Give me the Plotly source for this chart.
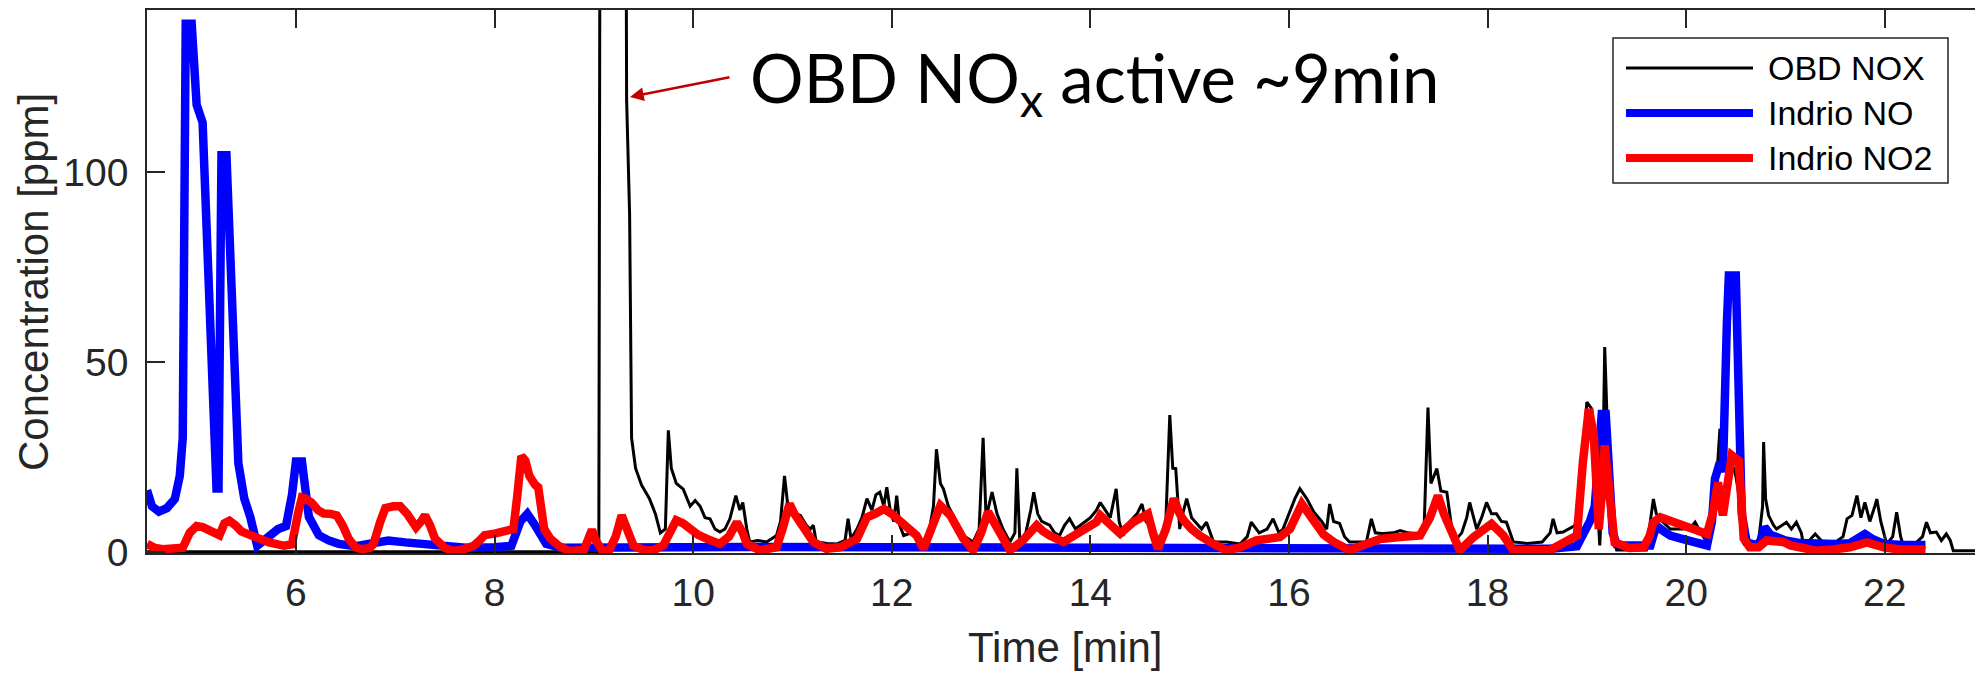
import plotly.graph_objects as go

# OBD NOx sensor signal (time [min], ppm)
obd = [
    (4.50, 0), (9.05, 0), (9.07, 300), (9.31, 300), (9.33, 119), (9.36, 89), (9.38, 30),
    (9.42, 22), (9.48, 17.6), (9.56, 14), (9.62, 10), (9.67, 5), (9.72, 6), (9.75, 32),
    (9.78, 22), (9.83, 18), (9.90, 16.5), (9.97, 12), (10.02, 13.5), (10.07, 12), (10.12, 9),
    (10.17, 8.7), (10.22, 6), (10.27, 5.2), (10.32, 6), (10.37, 8.7), (10.43, 14.8), (10.47, 11),
    (10.50, 13), (10.54, 6), (10.57, 2.6), (10.65, 3), (10.74, 2.6), (10.84, 4.3), (10.88, 8),
    (10.92, 20), (10.95, 13), (10.99, 12), (11.04, 10), (11.08, 9.6), (11.14, 7), (11.18, 6),
    (11.21, 7), (11.24, 2.6), (11.35, 2.2), (11.45, 2.1), (11.53, 3), (11.56, 8.7), (11.59, 3.4),
    (11.65, 6), (11.70, 9), (11.75, 14), (11.80, 11), (11.84, 15), (11.88, 15.7), (11.92, 12),
    (11.95, 17), (11.99, 10), (12.02, 8), (12.05, 14.8), (12.08, 7), (12.12, 4.3), (12.20, 5),
    (12.25, 4.3), (12.32, 2.6), (12.38, 6), (12.42, 12), (12.45, 27), (12.49, 18), (12.52, 16.6),
    (12.57, 12), (12.62, 9.6), (12.67, 7), (12.72, 4.3), (12.82, 2.6), (12.88, 6), (12.92, 30),
    (12.95, 9), (12.98, 12), (13.01, 15.7), (13.06, 10), (13.12, 6), (13.19, 2.6), (13.24, 5),
    (13.26, 22), (13.29, 2.6), (13.35, 5), (13.40, 11), (13.43, 15.7), (13.47, 10), (13.51, 8),
    (13.59, 7), (13.64, 5), (13.69, 4.3), (13.74, 7), (13.79, 8.7), (13.85, 6), (13.93, 7.5),
    (14.00, 9), (14.06, 10.9), (14.10, 13), (14.20, 9), (14.26, 16.6), (14.29, 8), (14.33, 4.3),
    (14.40, 8), (14.47, 10), (14.52, 12.6), (14.56, 8), (14.63, 6), (14.70, 3), (14.76, 8),
    (14.80, 36), (14.83, 22), (14.86, 21.9), (14.90, 6), (14.93, 10), (14.97, 14), (15.02, 9),
    (15.07, 7.5), (15.12, 6), (15.17, 7.8), (15.24, 2.6), (15.37, 2.6), (15.51, 2.1), (15.58, 4),
    (15.62, 7.8), (15.70, 5), (15.78, 6), (15.84, 8.7), (15.90, 5), (15.94, 6), (16.00, 10),
    (16.06, 14), (16.11, 16.6), (16.18, 14), (16.25, 10.5), (16.33, 8), (16.38, 6), (16.41, 12.6),
    (16.45, 8), (16.51, 7.5), (16.56, 4), (16.61, 2.6), (16.78, 2.6), (16.83, 8.7), (16.87, 5),
    (16.95, 4.8), (17.05, 5), (17.12, 5.6), (17.20, 5), (17.29, 4.8), (17.36, 5.5), (17.40, 38),
    (17.43, 18), (17.46, 20), (17.49, 21.9), (17.53, 16), (17.59, 15.7), (17.63, 8), (17.66, 2.6),
    (17.74, 5), (17.79, 9), (17.82, 13), (17.85, 10), (17.89, 6), (17.94, 9), (17.99, 13),
    (18.04, 10), (18.09, 10), (18.14, 8), (18.19, 7.8), (18.26, 2.6), (18.40, 2.2), (18.55, 2.6),
    (18.63, 5), (18.66, 8.7), (18.70, 5), (18.76, 5.2), (18.82, 6), (18.88, 6.9), (18.93, 14),
    (18.97, 30), (19.00, 39.4), (19.05, 37.6), (19.09, 20), (19.13, 1.7), (19.16, 20), (19.18, 53.9),
    (19.21, 30), (19.24, 20), (19.27, 3), (19.30, 0.5), (19.60, 0.5), (19.64, 8.7), (19.67, 13.9),
    (19.70, 10), (19.74, 8.5), (19.84, 6), (19.97, 6), (20.05, 6.5), (20.09, 7.8), (20.15, 5),
    (20.21, 2.5), (20.25, 8), (20.27, 12.2), (20.31, 20), (20.34, 32.4), (20.37, 24), (20.39, 22),
    (20.44, 25), (20.50, 20), (20.55, 12), (20.58, 3), (20.68, 1), (20.73, 3), (20.77, 12),
    (20.78, 28.9), (20.80, 14), (20.83, 9.6), (20.88, 7), (20.91, 6), (20.96, 7), (21.01, 7.8),
    (21.06, 6), (21.11, 7.8), (21.16, 5), (21.18, 2), (21.24, 3), (21.30, 4.7), (21.36, 3),
    (21.42, 2), (21.50, 2.5), (21.58, 4), (21.62, 8.7), (21.67, 9.6), (21.72, 14.8), (21.76, 9),
    (21.80, 13), (21.85, 8), (21.90, 12), (21.92, 13.9), (21.96, 8), (22.02, 2), (22.08, 4),
    (22.12, 10.4), (22.16, 4), (22.19, 1.5), (22.30, 2), (22.38, 4), (22.42, 7.8), (22.46, 5),
    (22.52, 5.2), (22.57, 3), (22.62, 4.7), (22.66, 3), (22.69, 0.3), (23.00, 0.3),
]

# Indrio NO analyser (time [min], ppm)
indrio_no = [
    (4.50, 16.2), (4.55, 12), (4.62, 10.6), (4.70, 11.5), (4.78, 13.9), (4.83, 20), (4.86, 30),
    (4.87, 61), (4.89, 139), (4.95, 139), (5.00, 117.6), (5.06, 113), (5.14, 51.6), (5.20, 16.7),
    (5.22, 16.7), (5.25, 104.4), (5.30, 104.4), (5.37, 61), (5.42, 23.3), (5.48, 14), (5.54, 9.2),
    (5.61, 1.6), (5.67, 3), (5.73, 4.4), (5.82, 6), (5.90, 6.8), (5.96, 15), (6.00, 23.8),
    (6.06, 23.8), (6.13, 9.2), (6.23, 4.4), (6.33, 3), (6.43, 2.1), (6.60, 1.5), (6.80, 2.5),
    (6.93, 3), (7.10, 2.5), (7.32, 2.1), (7.50, 1.5), (7.71, 1.1), (8.00, 1.2), (8.17, 1.6),
    (8.26, 8), (8.33, 10), (8.40, 7.3), (8.52, 2.1), (8.67, 1.1), (9.00, 1.2), (9.44, 1.5),
    (10.50, 1.3), (12.00, 1.2), (14.00, 1.2), (16.00, 1.2), (18.00, 1.2), (18.63, 0.8),
    (18.90, 1.5), (18.98, 5), (19.03, 8), (19.08, 12), (19.12, 23), (19.15, 36.3), (19.19, 36.3),
    (19.22, 23), (19.26, 5), (19.30, 2), (19.37, 1.7), (19.64, 1.7), (19.70, 6.9), (19.77, 5.5),
    (19.84, 4.3), (19.95, 3.5), (20.07, 2.5), (20.21, 1.7), (20.26, 8), (20.29, 19.2), (20.34, 23.6),
    (20.37, 21), (20.41, 60), (20.43, 72.7), (20.50, 72.7), (20.53, 40), (20.56, 10), (20.61, 2.5),
    (20.71, 1.7), (20.75, 3), (20.79, 6.5), (20.85, 4.5), (20.91, 3.9), (21.00, 3), (21.15, 2.3),
    (21.31, 2.1), (21.50, 2.1), (21.65, 2.3), (21.75, 3.5), (21.80, 4.7), (21.87, 3.5), (21.99, 2.1),
    (22.20, 1.8), (22.41, 1.8),
]

# Indrio NO2 analyser (time [min], ppm)
indrio_no2 = [
    (4.50, 2.1), (4.58, 1), (4.66, 0.7), (4.78, 0.8), (4.86, 1.1), (4.93, 5), (5.00, 6.8),
    (5.06, 6.5), (5.12, 5.8), (5.18, 4.5), (5.23, 4.4), (5.28, 7.5), (5.33, 8.2), (5.39, 7),
    (5.45, 5.4), (5.58, 4), (5.66, 3), (5.73, 2.5), (5.88, 1.6), (5.96, 2), (6.02, 10), (6.06, 14.3),
    (6.10, 14), (6.16, 12.9), (6.22, 11), (6.28, 10.1), (6.35, 10), (6.41, 9.6), (6.47, 7),
    (6.53, 3.5), (6.60, 1.2), (6.66, 0.7), (6.74, 1), (6.78, 2), (6.85, 8), (6.90, 11.5), (6.98, 12),
    (7.05, 12), (7.12, 10), (7.17, 8.2), (7.21, 6.5), (7.26, 8), (7.30, 9.6), (7.35, 7), (7.40, 3.5),
    (7.50, 1), (7.59, 0.2), (7.70, 0.8), (7.79, 1.6), (7.85, 3), (7.90, 4.4), (8.00, 4.8),
    (8.13, 5.4), (8.19, 6), (8.23, 15), (8.27, 25.2), (8.31, 24), (8.35, 20), (8.41, 17.6),
    (8.44, 17), (8.50, 6), (8.56, 3.5), (8.65, 1.5), (8.75, 0.2), (8.90, 0.5), (8.95, 4), (8.98, 5.8),
    (9.02, 3), (9.08, 0.5), (9.15, 0.2), (9.22, 4), (9.28, 9.6), (9.33, 6), (9.40, 1.6), (9.50, 0.5),
    (9.60, 0.4), (9.70, 1.7), (9.77, 6), (9.83, 8.3), (9.90, 7.5), (9.97, 6), (10.05, 4.5),
    (10.14, 3.4), (10.27, 2.1), (10.36, 4), (10.44, 7.8), (10.50, 5), (10.54, 2.1), (10.67, 0.4),
    (10.84, 1.2), (10.90, 6), (10.97, 12.6), (11.02, 10), (11.08, 7.8), (11.15, 5), (11.21, 2.6),
    (11.34, 0.8), (11.48, 1.2), (11.65, 3.4), (11.75, 9.1), (11.83, 10), (11.92, 11.3), (12.00, 10),
    (12.12, 7), (12.25, 4.3), (12.32, 0.8), (12.40, 6), (12.49, 12.2), (12.59, 9.6), (12.66, 6),
    (12.72, 3.5), (12.82, 0.4), (12.90, 5), (12.97, 10.5), (13.06, 6), (13.12, 3), (13.19, 0.4),
    (13.32, 3), (13.46, 7), (13.52, 5.5), (13.59, 4.3), (13.73, 2.6), (13.90, 5.3), (14.06, 7.8),
    (14.10, 9.6), (14.20, 7.5), (14.30, 4.8), (14.43, 7.8), (14.58, 10), (14.63, 5), (14.68, 0.8),
    (14.76, 6), (14.84, 14), (14.90, 10), (14.94, 8.3), (15.02, 6), (15.10, 4.3), (15.24, 2.1),
    (15.37, 0.4), (15.51, 1.2), (15.67, 3), (15.91, 3.9), (16.01, 6), (16.13, 12.6), (16.25, 7.8),
    (16.35, 4.5), (16.45, 2.6), (16.61, 0.4), (16.78, 2.1), (16.92, 3.4), (17.12, 3.9), (17.32, 4.3),
    (17.42, 9), (17.50, 14.8), (17.56, 10), (17.62, 6), (17.72, 0.4), (17.86, 3.9), (18.04, 7.4),
    (18.16, 4.3), (18.26, 0.4), (18.63, 0.5), (18.80, 3), (18.90, 4.3), (18.96, 23.6), (19.02, 37.6),
    (19.07, 30.6), (19.12, 6), (19.15, 15), (19.18, 28), (19.23, 14.8), (19.28, 2.5), (19.43, 1),
    (19.57, 1.2), (19.63, 4), (19.67, 7.8), (19.74, 9.1), (19.85, 8), (19.97, 6.9), (20.10, 5.5),
    (20.21, 4.7), (20.27, 10.4), (20.32, 18.3), (20.37, 9.6), (20.42, 20), (20.46, 25.4),
    (20.53, 24), (20.58, 3.5), (20.64, 1.2), (20.73, 1.2), (20.81, 3), (20.98, 2.6), (21.05, 1.7),
    (21.15, 1.2), (21.31, 0.3), (21.48, 0.6), (21.65, 1.2), (21.82, 2.5), (21.99, 1.2), (22.15, 0.6),
    (22.41, 0.6),
]

x_ticks = [6, 8, 10, 12, 14, 16, 18, 20, 22]
y_ticks = [0, 50, 100]

series_names = ["OBD NOX", "Indrio NO", "Indrio NO2"]
series_colors = ["#000000", "#0000ff", "#ff0000"]
series_widths = [3, 8.5, 8.5]

W, H = 1975, 675
L, R, T, B = 147, 0, 10, 122
PLOT_W = W - L - R
PLOT_H = H - T - B


def px(x_pix):
    return (x_pix - L) / PLOT_W


def py(y_pix):
    return (H - B - y_pix) / PLOT_H


fig = go.Figure()
for data, name, color, width in zip([obd, indrio_no, indrio_no2], series_names,
                                    series_colors, series_widths):
    t, v = zip(*data)
    fig.add_trace(go.Scatter(x=list(t), y=list(v), mode="lines", name=name,
                             line=dict(color=color, width=width), showlegend=False))

axis_color = "#262626"
tick_font = dict(family="Liberation Sans, Arial, sans-serif", size=39, color=axis_color)

fig.update_layout(
    width=W, height=H, autosize=False,
    margin=dict(l=L, r=R, t=T, b=B, pad=0),
    paper_bgcolor="white", plot_bgcolor="white",
    xaxis=dict(range=[4.5, 4.5 + PLOT_W / 99.3], tickvals=x_ticks, ticks="inside",
               ticklen=18, tickwidth=1.5, tickcolor=axis_color, showline=True,
               linecolor=axis_color, linewidth=1.5, mirror="ticks", showgrid=False,
               zeroline=False, tickfont=tick_font, ticklabelstandoff=4),
    yaxis=dict(range=[-0.3, -0.3 + PLOT_H / 3.8], tickvals=y_ticks, ticks="inside",
               ticklen=18, tickwidth=1.5, tickcolor=axis_color, showline=True,
               linecolor=axis_color, linewidth=1.5, mirror=False, showgrid=False,
               zeroline=False, tickfont=tick_font, ticklabelstandoff=9),
)

title_font = dict(family="Liberation Sans, Arial, sans-serif", size=42, color=axis_color)
annotations = [
    dict(text="Time [min]", x=px(1065), y=py(648), xref="paper", yref="paper",
         xanchor="center", yanchor="middle", showarrow=False, font=title_font),
    dict(text="Concentration [ppm]", x=px(33), y=py(282), xref="paper", yref="paper",
         xanchor="center", yanchor="middle", textangle=-90, showarrow=False, font=title_font),
    # callout for the start of the OBD NOx signal
    dict(text="OBD NO<sub>x</sub> active ~9min", x=px(748), y=py(82), xref="paper",
         yref="paper", xanchor="left", yanchor="middle", showarrow=False,
         font=dict(family="Lato, Open Sans, sans-serif", size=67, color="#000000")),
    dict(text="", x=9.364, y=119.7, xref="x", yref="y", ax=101, ay=-20, showarrow=True,
         arrowhead=2, arrowsize=1.1, arrowwidth=2.5, arrowcolor="#c00000"),
]

# legend box drawn from shapes and labels
shapes = [dict(type="rect", xref="paper", yref="paper", x0=px(1613), x1=px(1948),
               y0=py(183), y1=py(38), line=dict(color=axis_color, width=1.5),
               fillcolor="white", layer="above")]
legend_font = dict(family="Liberation Sans, Arial, sans-serif", size=34, color="#000000")
for i, (name, color, width) in enumerate(zip(series_names, series_colors, series_widths)):
    yy = 68 + 45 * i
    shapes.append(dict(type="line", xref="paper", yref="paper", x0=px(1626), x1=px(1753),
                       y0=py(yy), y1=py(yy), line=dict(color=color, width=3 if i == 0 else 8),
                       layer="above"))
    annotations.append(dict(text=name, x=px(1766), y=py(yy), xref="paper", yref="paper",
                            xanchor="left", yanchor="middle", showarrow=False,
                            font=legend_font))

fig.update_layout(shapes=shapes, annotations=annotations)
fig.write_html("out.html")
